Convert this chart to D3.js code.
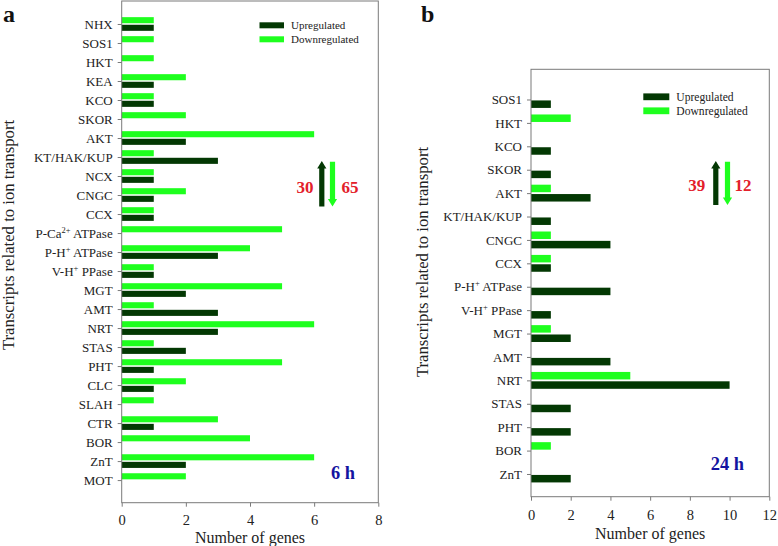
<!DOCTYPE html>
<html><head><meta charset="utf-8">
<script src="https://cdn.jsdelivr.net/npm/d3@7"></script>
<style>
body{margin:0;background:#fff}
svg{display:block}
</style>
</head><body>
<svg id="c" width="778" height="546" font-family="'Liberation Serif','Times New Roman',serif" fill="#222"></svg>
<script>
// ---------- data ----------
const catsA = ["NHX","SOS1","HKT","KEA","KCO","SKOR","AKT","KT/HAK/KUP","NCX","CNGC","CCX","P-Ca^{2+} ATPase","P-H^{+} ATPase","V-H^{+} PPase","MGT","AMT","NRT","STAS","PHT","CLC","SLAH","CTR","BOR","ZnT","MOT"];
const upA   = [1,0,0,1,1,0,2,3,1,1,1,0,3,1,2,3,3,2,1,1,0,1,0,2,0];
const downA = [1,1,1,2,1,2,6,1,1,2,1,5,4,1,5,1,6,1,5,2,1,3,4,6,2];
const ticksA = [0,2,4,6,8];
const totalsA = [30,65];
const timeA = "6 h";

const catsB = ["SOS1","HKT","KCO","SKOR","AKT","KT/HAK/KUP","CNGC","CCX","P-H^{+} ATPase","V-H^{+} PPase","MGT","AMT","NRT","STAS","PHT","BOR","ZnT"];
const upB   = [1,0,1,1,3,1,4,1,4,1,2,4,10,2,2,0,2];
const downB = [0,2,0,0,1,0,1,1,0,0,1,0,5,0,0,1,0];
const ticksB = [0,2,4,6,8,10,12];
const totalsB = [39,12];
const timeB = "24 h";

const seriesNames = ["Upregulated","Downregulated"];
const xTitle = "Number of genes";
const yTitle = "Transcripts related to ion transport";

// ---------- style ----------
const FONT = "'Liberation Serif','Times New Roman',serif";
const DARK = "#033803", LIGHT = "#1eff1e", FRAME = "#7a7a7a", RED = "#e3202a", BLUE = "#1414a0", INK = "#222";

const svg = d3.select("#c");

function richLabel(sel, str, supSize){
  sel.text(null);
  const parts = str.split(/\^\{([^}]*)\}/);
  let shift = 0;
  parts.forEach((p,k)=>{
    if(!p) return;
    if(k%2===1){
      sel.append("tspan").attr("font-size",supSize).attr("dy",-5).text(p);
      shift = 5;
    } else {
      const t = sel.append("tspan").text(p);
      if(shift){ t.attr("dy",shift); shift=0; }
    }
  });
}

function panel(cfg){
  const g = svg.append("g");
  const n = cfg.cats.length;
  const x = d3.scaleLinear().domain([0, cfg.ticks[cfg.ticks.length-1]]).range([cfg.x0, cfg.x1]);
  const y = d3.scaleLinear().domain([-cfg.padTop, n-1+cfg.padBot]).range([cfg.y0, cfg.y1]);
  const s = y(1)-y(0);
  const idx = d3.range(n);

  // bars
  g.append("g").selectAll("rect").data(idx).join("rect")
    .attr("x", x(0)).attr("y", i=>y(i)-0.36*s)
    .attr("width", i=>x(cfg.down[i])-x(0)).attr("height", 0.32*s)
    .attr("fill", LIGHT);
  g.append("g").selectAll("rect").data(idx).join("rect")
    .attr("x", x(0)).attr("y", i=>y(i)+0.04*s)
    .attr("width", i=>x(cfg.up[i])-x(0)).attr("height", 0.32*s)
    .attr("fill", DARK);

  // frame
  g.append("rect").attr("x",cfg.x0).attr("y",cfg.y0)
    .attr("width",cfg.x1-cfg.x0).attr("height",cfg.y1-cfg.y0)
    .attr("fill","none").attr("stroke",FRAME).attr("stroke-width",1);

  // y axis
  const ya = g.append("g").attr("transform",`translate(${cfg.x0},0)`)
    .call(d3.axisLeft(y).tickValues(idx).tickSize(4).tickPadding(5).tickFormat(i=>cfg.cats[i]));
  ya.attr("font-family",FONT);
  ya.select(".domain").remove();
  ya.selectAll(".tick line").attr("stroke",FRAME);
  ya.selectAll(".tick text").attr("font-size",13).attr("fill",INK)
    .each(function(i){ richLabel(d3.select(this), cfg.cats[i], 8.5); });

  // x axis
  const xa = g.append("g").attr("transform",`translate(0,${cfg.y1})`)
    .call(d3.axisBottom(x).tickValues(cfg.ticks).tickSize(4).tickPadding(cfg.xPad).tickFormat(d3.format("d")));
  xa.attr("font-family",FONT);
  xa.select(".domain").remove();
  xa.selectAll(".tick line").attr("stroke",FRAME);
  xa.selectAll(".tick text").attr("font-size",14.5).attr("fill",INK);

  // titles
  g.append("text").attr("x",(cfg.x0+cfg.x1)/2).attr("y",cfg.xTitleY)
    .attr("text-anchor","middle").attr("font-size",16).attr("fill",INK).text(xTitle);
  g.append("text").attr("transform",`translate(${cfg.yTitleX},${cfg.yTitleY}) rotate(-90)`)
    .attr("text-anchor","middle").attr("font-size",16.7).attr("fill",INK).text(yTitle);

  // panel letter
  g.append("text").attr("x",cfg.letterX).attr("y",22).attr("font-size",24)
    .attr("font-weight","bold").attr("fill","#111").text(cfg.letter);

  // legend
  const lg = g.append("g").attr("transform",`translate(${cfg.legX},${cfg.legY})`);
  [DARK,LIGHT].forEach((c,k)=>{
    lg.append("rect").attr("x",0).attr("y",k*cfg.legGap-cfg.swH/2).attr("width",cfg.swW).attr("height",cfg.swH).attr("fill",c);
    lg.append("text").attr("x",cfg.swW+7).attr("y",k*cfg.legGap).attr("dy","0.35em")
      .attr("font-size",cfg.legFont).attr("fill",INK).text(seriesNames[k]);
  });

  // arrows
  const arrow = (cx, top, bot, up, color)=>{
    const w=2.6, hw=4.6, hl=7.5;
    const p = up
      ? `M${cx-w},${bot}L${cx-w},${top+hl}L${cx-hw},${top+hl}L${cx},${top}L${cx+hw},${top+hl}L${cx+w},${top+hl}L${cx+w},${bot}Z`
      : `M${cx-w},${top}L${cx-w},${bot-hl}L${cx-hw},${bot-hl}L${cx},${bot}L${cx+hw},${bot-hl}L${cx+w},${bot-hl}L${cx+w},${top}Z`;
    g.append("path").attr("d",p).attr("fill",color);
  };
  arrow(cfg.x1+cfg.arDark, 161, cfg.arBot, true, DARK);
  arrow(cfg.x1+cfg.arLight, 161.7, cfg.arBot, false, LIGHT);
  g.append("text").attr("x",cfg.x1+cfg.numUp).attr("y",cfg.numY).attr("text-anchor","middle")
    .attr("font-size",17).attr("font-weight","bold").attr("fill",RED).text(cfg.totals[0]);
  g.append("text").attr("x",cfg.x1+cfg.numDn).attr("y",cfg.numY).attr("text-anchor","middle")
    .attr("font-size",17).attr("font-weight","bold").attr("fill",RED).text(cfg.totals[1]);

  // time label
  g.append("text").attr("x",cfg.x1+cfg.timeX).attr("y",cfg.timeY).attr("text-anchor","end")
    .attr("font-size",18.4).attr("font-weight","bold").attr("fill",BLUE).text(cfg.time);
}

panel({cats:catsA, up:upA, down:downA, ticks:ticksA, totals:totalsA, time:timeA,
  x0:121.7, x1:378.3, y0:1, y1:502.7, padTop:1.21, padBot:1.19, xPad:8,
  xTitleY:543, yTitleX:14, yTitleY:235, letter:"a", letterX:3,
  legX:259.5, legY:25.3, legGap:14, swW:24.5, swH:6, legFont:11,
  arDark:-56.5, arLight:-45.8, arBot:206.5, numUp:-73.3, numDn:-28.3, numY:193,
  timeX:-23.3, timeY:479});

panel({cats:catsB, up:upB, down:downB, ticks:ticksB, totals:totalsB, time:timeB,
  x0:531, x1:769.3, y0:69.3, y1:496.7, padTop:1.29, padBot:0.97, xPad:9,
  xTitleY:538.5, yTitleX:428, yTitleY:262, letter:"b", letterX:421,
  legX:643.3, legY:96.8, legGap:14, swW:26, swH:6.8, legFont:11.6,
  arDark:-53.5, arLight:-41.8, arBot:205, numUp:-72.6, numDn:-26.3, numY:191,
  timeX:-25.3, timeY:470});
</script>
</body></html>
